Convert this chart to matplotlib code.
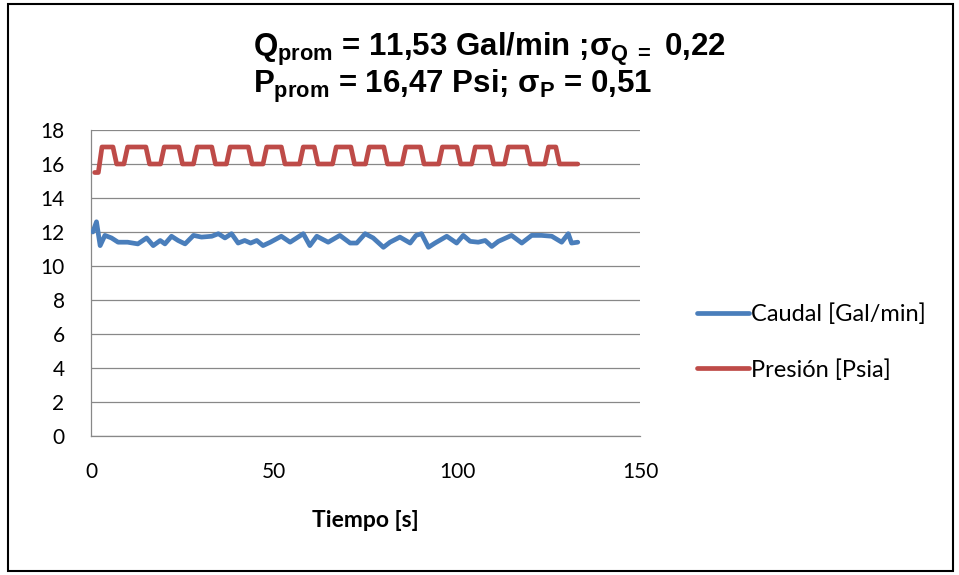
import matplotlib
matplotlib.use("Agg")
import matplotlib.pyplot as plt
from matplotlib.patches import Rectangle

# ---- data ---------------------------------------------------------------
# Pressure log, one reading per second (t = 1 .. 133)
presion = [
    15.5, 15.5, 17, 17, 17, 17, 16, 16, 16, 17,
    17, 17, 17, 17, 17, 16, 16, 16, 16, 17,
    17, 17, 17, 17, 16, 16, 16, 16, 17, 17,
    17, 17, 17, 16, 16, 16, 16, 17, 17, 17,
    17, 17, 17, 16, 16, 16, 16, 17, 17, 17,
    17, 17, 16, 16, 16, 16, 16, 17, 17, 17,
    17, 16, 16, 16, 16, 16, 17, 17, 17, 17,
    17, 16, 16, 16, 16, 17, 17, 17, 17, 17,
    16, 16, 16, 16, 16, 17, 17, 17, 17, 17,
    16, 16, 16, 16, 16, 17, 17, 17, 17, 17,
    16, 16, 16, 16, 17, 17, 17, 17, 17, 16,
    16, 16, 16, 17, 17, 17, 17, 17, 17, 16,
    16, 16, 16, 16, 17, 17, 17, 16, 16, 16,
    16, 16, 16,
]
t_presion = list(range(1, len(presion) + 1))

# Flow readings (time in s, flow in Gal/min)
t_caudal = [
    0.5, 1.5, 2.5, 3.8, 5.6, 7.4, 10.0, 12.8, 15.2, 17.0,
    18.9, 20.2, 22.0, 23.8, 25.7, 28.0, 30.2, 33.0, 34.8, 36.6,
    38.4, 40.2, 42.0, 43.6, 45.3, 47.0, 49.0, 52.0, 54.4, 58.0,
    59.8, 61.7, 64.8, 68.0, 70.8, 72.6, 74.9, 77.1, 79.9, 81.7,
    84.4, 87.2, 88.8, 90.3, 92.2, 94.0, 97.2, 99.9, 101.7, 103.6,
    105.8, 107.7, 109.5, 111.3, 114.9, 117.7, 120.4, 123.1, 125.9, 128.6,
    130.4, 131.3, 133.0,
]
caudal = [
    12.0, 12.6, 11.2, 11.8, 11.65, 11.4, 11.4, 11.3, 11.65, 11.2,
    11.5, 11.3, 11.75, 11.5, 11.3, 11.8, 11.7, 11.75, 11.9, 11.65,
    11.9, 11.35, 11.5, 11.35, 11.5, 11.2, 11.4, 11.75, 11.4, 11.9,
    11.2, 11.75, 11.4, 11.8, 11.35, 11.35, 11.9, 11.65, 11.1, 11.4,
    11.7, 11.35, 11.8, 11.9, 11.1, 11.35, 11.75, 11.35, 11.8, 11.45,
    11.4, 11.5, 11.15, 11.45, 11.8, 11.35, 11.8, 11.8, 11.75, 11.4,
    11.9, 11.35, 11.4,
]

series_labels = ["Caudal [Gal/min]", "Presión [Psia]"]
x_ticks = [0, 50, 100, 150]
y_ticks = list(range(0, 19, 2))

# ---- style --------------------------------------------------------------
plt.rcParams["font.family"] = ["Lato", "DejaVu Sans"]
plt.rcParams["mathtext.fontset"] = "custom"
plt.rcParams["mathtext.rm"] = "Liberation Sans:bold"
plt.rcParams["mathtext.it"] = "Liberation Sans:bold"
plt.rcParams["mathtext.bf"] = "Liberation Sans:bold"

BLUE = "#4A7EBB"
RED = "#BE4B48"
GRID = "#888888"

W, H = 959, 575
fig = plt.figure(figsize=(W / 100, H / 100), dpi=100)

# outer chart border
fig.patches.append(Rectangle((8 / W, 4 / H), (953 - 8) / W, (571 - 4) / H,
                             transform=fig.transFigure, fill=False,
                             edgecolor="black", linewidth=1.5))

ax = fig.add_axes([91 / W, 1 - 436 / H, 549 / W, 306 / H])
ax.plot(t_caudal, caudal, color=BLUE, lw=3.4, solid_joinstyle="round",
        solid_capstyle="round", label=series_labels[0], zorder=3)
ax.plot(t_presion, presion, color=RED, lw=3.4, solid_joinstyle="round",
        solid_capstyle="round", label=series_labels[1], zorder=3)

ax.set_xlim(0, 150)
ax.set_ylim(0, 18)
ax.set_xticks(x_ticks)
ax.set_yticks(y_ticks)
ax.tick_params(axis="both", length=0, labelsize=15, colors="black")
ax.tick_params(axis="x", pad=19)
ax.tick_params(axis="y", pad=19)
ax.yaxis.grid(True, color=GRID, lw=0.9)
ax.set_axisbelow(True)
for side in ("top", "right"):
    ax.spines[side].set_visible(False)
for side in ("left", "bottom"):
    ax.spines[side].set_color(GRID)
    ax.spines[side].set_linewidth(0.9)

ax.set_xlabel("Tiempo [s]", fontsize=16.5, fontweight="bold", labelpad=20)

# title lines
fig.text(253 / W, 1 - 56 / H,
         r"$Q_{prom}$ = 11,53 Gal/min ;$σ_{Q\ =}$ 0,22",
         family="Liberation Sans", fontweight="bold", fontsize=22.5,
         ha="left", va="baseline")
fig.text(253 / W, 1 - 93 / H,
         r"$P_{prom}$ = 16,47 Psi; $σ_{P}$ = 0,51",
         family="Liberation Sans", fontweight="bold", fontsize=22.5,
         ha="left", va="baseline")

fig.legend(loc="center left", bbox_to_anchor=(697 / W, 1 - 342 / H),
           frameon=False, fontsize=17, handlelength=2.2, handletextpad=0.1,
           labelspacing=1.45, borderpad=0, borderaxespad=0)

fig.savefig("out.png", dpi=100)
